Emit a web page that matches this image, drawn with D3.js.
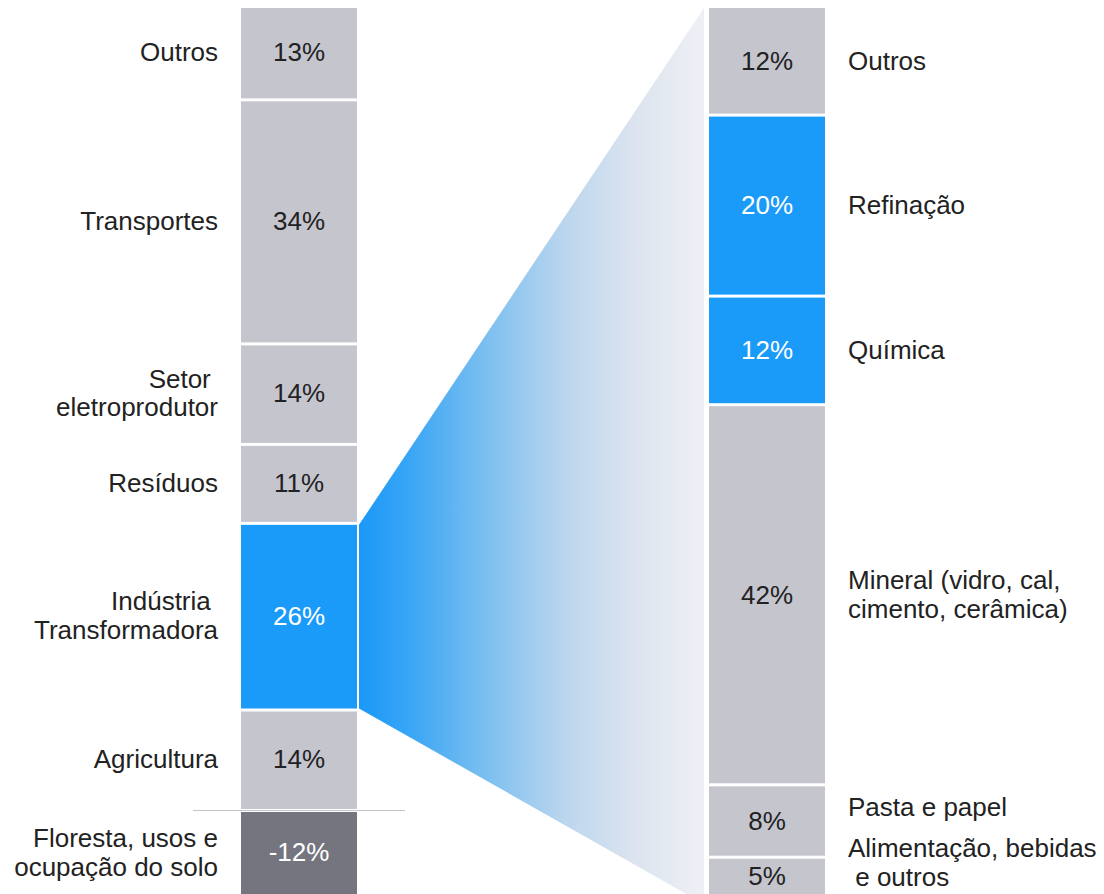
<!DOCTYPE html>
<html>
<head>
<meta charset="utf-8">
<script src="https://cdn.jsdelivr.net/npm/d3@7"></script>
<style>
  body { margin: 0; background: #fff; }
  svg text { white-space: pre; }
</style>
</head>
<body>
<div id="chart"></div>
<script>
// Left column: total emissions by sector (stacked from top)
const leftLabels = [["Outros"], ["Transportes"], ["Setor ", "eletroprodutor"], ["Resíduos"], ["Indústria ", "Transformadora"], ["Agricultura"]];
const leftValues = [13, 34, 14, 11, 26, 14];
const forestLabel = ["Floresta, usos e", "ocupação do solo"];
const forestValue = -12;

// Right column: breakdown of manufacturing industry
const rightLabels = [["Outros"], ["Refinação"], ["Química"], ["Mineral (vidro, cal,", "cimento, cerâmica)"], ["Pasta e papel"], ["Alimentação, bebidas", " e outros"]];
const rightValues = [12, 20, 12, 42, 8, 5];

const highlightLeft = "Indústria ";
const highlightRight = ["Refinação", "Química"];

const W = 1104, H = 894;
const gap = 3;
const c_gray = "#c5c5ce", c_blue = "#1a9bf9", c_dark = "#75757f", c_text = "#222222";
const FONT = "'Liberation Sans', Arimo, Arial, Helvetica, sans-serif";

const svg = d3.select("#chart").append("svg")
    .attr("width", W).attr("height", H)
    .attr("font-family", FONT)
    .attr("font-size", 26);

const leftX = {x0: 241, x1: 357};
const rightX = {x0: 709, x1: 825};

const leftTotal = d3.sum(leftValues);
const yL = d3.scaleLinear().domain([0, leftTotal]).range([8, 812]);
const rightTotal = d3.sum(rightValues);
const yR = d3.scaleLinear().domain([0, rightTotal]).range([8, 8 + rightTotal * 9.05]);

function stack(values, labels) {
    const ends = Array.from(d3.cumsum(values));
    return values.map((v, i) => ({value: v, label: labels[i], start: ends[i] - v, end: ends[i]}));
}
const leftSegs = stack(leftValues, leftLabels);
const rightSegs = stack(rightValues, rightLabels);

// Fan gradient from highlighted segment to right column
const defs = svg.append("defs");
const grad = defs.append("linearGradient").attr("id", "fan").attr("x1", 0).attr("x2", 1).attr("y1", 0).attr("y2", 0);
[[0, "#1a98f8"], [0.15, "#3aa6f5"], [0.35, "#76bdf0"], [0.6, "#bcd6ee"], [0.8, "#dce4ef"], [1, "#eef0f5"]]
    .forEach(([o, c]) => grad.append("stop").attr("offset", o).attr("stop-color", c));

const hl = leftSegs.find(d => d.label[0] === highlightLeft);
const fanL = leftX.x1 + 2, fanR = rightX.x0 - 5;
svg.append("path")
    .attr("d", d3.line()([
        [fanL, yL(hl.start)],
        [fanR, yR(0)],
        [fanR, yR(rightTotal)],
        [fanL, yL(hl.end) - gap]
    ]) + "Z")
    .attr("fill", "url(#fan)");

function multiText(g, x, y, lines, anchor, color) {
    const t = g.append("text")
        .attr("x", x).attr("y", y)
        .attr("text-anchor", anchor)
        .attr("fill", color);
    const lh = 28.5;
    lines.forEach((ln, i) => {
        t.append("tspan")
            .attr("x", x)
            .attr("y", y + (i - (lines.length - 1) / 2) * lh)
            .attr("dy", "0.34em")
            .text(ln);
    });
}

// Left bars
const gL = svg.append("g");
leftSegs.forEach(d => {
    const isHl = d.label[0] === highlightLeft;
    const y0 = yL(d.start), y1 = yL(d.end) - gap;
    gL.append("rect")
        .attr("x", leftX.x0).attr("width", leftX.x1 - leftX.x0)
        .attr("y", y0).attr("height", y1 - y0)
        .attr("fill", isHl ? c_blue : c_gray);
    multiText(gL, (leftX.x0 + leftX.x1) / 2, (y0 + y1) / 2 - 1, [d.value + "%"], "middle", isHl ? "#fff" : c_text);
    multiText(gL, 218, (y0 + y1) / 2 - 1, d.label, "end", c_text);
});

// Baseline separator and negative segment
gL.append("line")
    .attr("x1", 193).attr("x2", 405)
    .attr("y1", yL(leftTotal) - 1.5).attr("y2", yL(leftTotal) - 1.5)
    .attr("stroke", c_gray).attr("stroke-width", 1);
const fy0 = yL(leftTotal), fy1 = yL(leftTotal - forestValue);
gL.append("rect")
    .attr("x", leftX.x0).attr("width", leftX.x1 - leftX.x0)
    .attr("y", fy0).attr("height", fy1 - fy0)
    .attr("fill", c_dark);
multiText(gL, (leftX.x0 + leftX.x1) / 2, (fy0 + fy1 - gap) / 2 - 1, [forestValue + "%"], "middle", "#fff");
multiText(gL, 218, (fy0 + fy1 - gap) / 2 - 1, forestLabel, "end", c_text);

// Right bars
const gR = svg.append("g");
rightSegs.forEach((d, i) => {
    const isHl = highlightRight.includes(d.label[0]);
    const y0 = yR(d.start), y1 = yR(d.end) - gap;
    gR.append("rect")
        .attr("x", rightX.x0).attr("width", rightX.x1 - rightX.x0)
        .attr("y", y0).attr("height", y1 - y0)
        .attr("fill", isHl ? c_blue : c_gray);
    const last = i === rightSegs.length - 1;
    multiText(gR, (rightX.x0 + rightX.x1) / 2, (y0 + y1) / 2 - (last ? 4 : 0), [d.value + "%"], "middle", isHl ? "#fff" : c_text);
    // the two small bottom segments have their labels nudged up to avoid overlap
    const nudge = i === rightSegs.length - 2 ? -14 : last ? -17 : 0;
    multiText(gR, 848, (y0 + y1) / 2 + nudge, d.label, "start", c_text);
});
</script>
</body>
</html>
